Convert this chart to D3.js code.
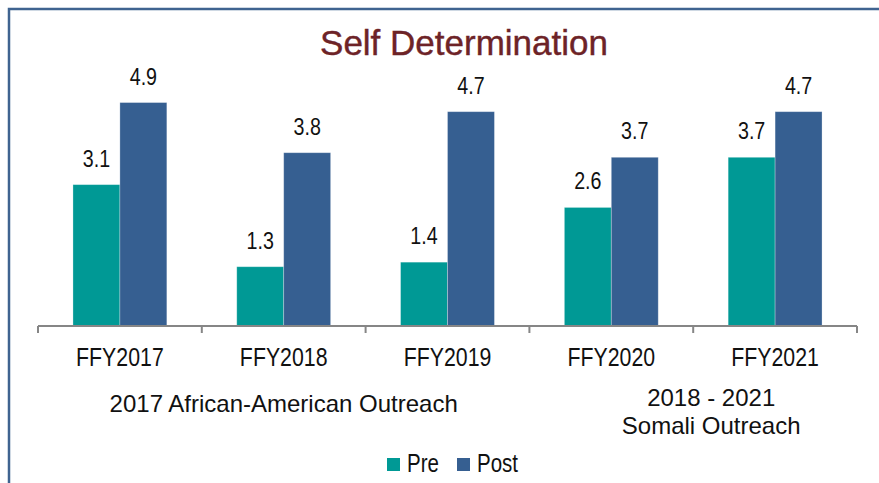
<!DOCTYPE html>
<html>
<head>
<meta charset="utf-8">
<script src="https://cdn.jsdelivr.net/npm/d3@7"></script>
<style>
  html, body { margin: 0; padding: 0; background: #ffffff; }
  svg { display: block; }
  .narrow { font-family: "Liberation Sans Narrow", "Arial Narrow", "Liberation Sans", Arial, sans-serif; }
  .reg { font-family: "Liberation Sans", Arial, sans-serif; }
</style>
</head>
<body>
<svg id="chart" width="879" height="483"></svg>
<script>
const title = "Self Determination";
const categories = ["FFY2017", "FFY2018", "FFY2019", "FFY2020", "FFY2021"];
const seriesNames = ["Pre", "Post"];
const preValues = [3.1, 1.3, 1.4, 2.6, 3.7];
const postValues = [4.9, 3.8, 4.7, 3.7, 4.7];
const groupLabels = [
  { from: "FFY2017", to: "FFY2019", lines: ["2017 African-American Outreach"] },
  { from: "FFY2020", to: "FFY2021", lines: ["2018 - 2021", "Somali Outreach"] }
];
const colors = ["#009995", "#365F91"];

const svg = d3.select("#chart");
const NARROW = 0.82;

// narrow text helper: horizontally compressed Liberation Sans
function narrowText(parent, x, y, txt, size, anchor) {
  return parent.append("text")
    .attr("class", "narrow")
    .attr("transform", `translate(${x},${y}) scale(${NARROW},1)`)
    .attr("text-anchor", anchor || "middle")
    .attr("font-size", size)
    .attr("fill", "#111")
    .text(txt);
}

// frame
svg.append("path")
  .attr("d", "M9,483 L9,9 L879,9")
  .attr("fill", "none")
  .attr("stroke", "#3F6390")
  .attr("stroke-width", 2.5);

// title
svg.append("text")
  .attr("class", "reg")
  .attr("x", 464).attr("y", 55)
  .attr("text-anchor", "middle")
  .attr("font-size", 35)
  .attr("fill", "#6D2327")
  .attr("stroke", "#6D2327").attr("stroke-width", 0.4)
  .text(title);

const x0 = d3.scaleBand().domain(categories).range([38, 857]).paddingInner(0).paddingOuter(0);
const x1 = d3.scaleBand().domain(seriesNames).range([0, x0.bandwidth()]).paddingInner(0).paddingOuter(0.745);
const y = d3.scaleLinear().domain([0, 5]).range([326, 98]);

const data = categories.map((c, i) => ({ cat: c, vals: [
  { s: "Pre", v: preValues[i] }, { s: "Post", v: postValues[i] }
]}));

const g = svg.append("g");
const groups = g.selectAll("g.grp").data(data).join("g")
  .attr("class", "grp")
  .attr("transform", d => `translate(${x0(d.cat)},0)`);

groups.selectAll("rect").data(d => d.vals).join("rect")
  .attr("x", d => x1(d.s))
  .attr("y", d => y(d.v))
  .attr("width", x1.bandwidth())
  .attr("height", d => y(0) - y(d.v))
  .attr("fill", (d, i) => colors[i])
  .attr("stroke", "#ffffff")
  .attr("stroke-opacity", 0.35)
  .attr("stroke-width", 0.8);

groups.each(function(d) {
  const gg = d3.select(this);
  d.vals.forEach(v => {
    narrowText(gg, x1(v.s) + x1.bandwidth() / 2, y(v.v) - 18, d3.format(".1f")(v.v), 24);
  });
});

// axis
const axisG = svg.append("g").attr("transform", `translate(0,${y(0)})`);
axisG.append("line")
  .attr("x1", x0.range()[0]).attr("x2", x0.range()[1])
  .attr("y1", 0).attr("y2", 0)
  .attr("stroke", "#868686").attr("stroke-width", 2);
const tickPos = categories.map(c => x0(c)).concat([x0.range()[1]]);
axisG.selectAll("line.tick").data(tickPos).join("line")
  .attr("class", "tick")
  .attr("x1", d => d).attr("x2", d => d)
  .attr("y1", 0).attr("y2", 7)
  .attr("stroke", "#868686").attr("stroke-width", 2);

categories.forEach(c => {
  narrowText(axisG, x0(c) + x0.bandwidth() / 2, 40, c, 26);
});

// group labels
const glY = [[412], [406, 434]];
groupLabels.forEach((gl, gi) => {
  const cx = (x0(gl.from) + x0(gl.to) + x0.bandwidth()) / 2;
  const off = gi === 0 ? 0 : 18;
  gl.lines.forEach((ln, li) => {
    svg.append("text")
      .attr("class", "reg")
      .attr("x", cx + off)
      .attr("y", glY[gi][li])
      .attr("text-anchor", "middle")
      .attr("font-size", 24)
      .attr("fill", "#111")
      .text(ln);
  });
});

// legend
const legendX = [387, 457];
const leg = svg.append("g");
seriesNames.forEach((s, i) => {
  leg.append("rect")
    .attr("x", legendX[i]).attr("y", 458)
    .attr("width", 13).attr("height", 13)
    .attr("fill", colors[i]);
  narrowText(leg, legendX[i] + 20, 472, s, 25, "start");
});
</script>
</body>
</html>
